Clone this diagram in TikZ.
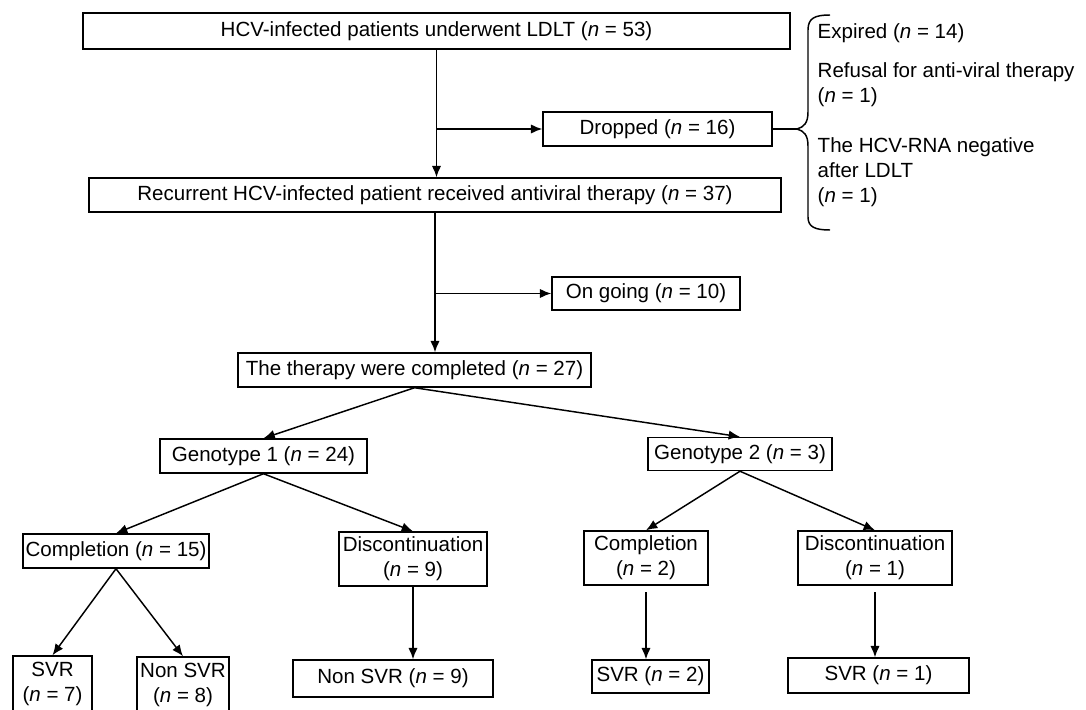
\documentclass[tikz,border=0pt]{standalone}
\usepackage{fontspec}
\setmainfont{Liberation Sans}
\usetikzlibrary{arrows.meta}

\newcommand{\ncount}[1]{(\textit{n} = #1)}

\begin{document}
\begin{tikzpicture}[
    x=0.75pt, y=-0.75pt,
    >={Latex[length=8.5pt,width=7pt]},
    font=\fontsize{15.4pt}{18.75pt}\selectfont,
    line width=1.1pt,
    box/.style={
        draw,
        rectangle,
        inner sep=0pt,
        align=center,
        line width=1.1pt
    },
    wd/.style={minimum width=#1*0.75pt},
    ht/.style={minimum height=#1*0.75pt},
    note/.style={
        anchor=west,
        align=left,
        inner sep=0pt
    }
]
\useasboundingbox (0,0) rectangle (1086,710);
\clip (0,0) rectangle (1086,710);

\node[box, wd=707, ht=36] (top) at (436.5,31) {HCV-infected patients underwent LDLT \ncount{53}};
\node[box, wd=229, ht=34] (dropped) at (657.5,129) {Dropped \ncount{16}};
\node[box, wd=692, ht=34] (recurrent) at (435,195) {Recurrent HCV-infected patient received antiviral therapy \ncount{37}};
\node[box, wd=188, ht=33] (ongoing) at (646,293.5) {On going \ncount{10}};
\node[box, wd=353, ht=34] (therapy) at (414.5,370) {The therapy were completed \ncount{27}};

\node[box, wd=207, ht=34] (geno1) at (263.5,456) {Genotype 1 \ncount{24}};
\node[box, wd=184, ht=33] (geno2) at (740,454) {Genotype 2 \ncount{3}};

\node[box, wd=186, ht=34] (comp1) at (116,551) {Completion \ncount{15}};
\node[box, wd=148, ht=54] (disc1) at (413,559) {Discontinuation\\\ncount{9}};
\node[box, wd=124, ht=54] (comp2) at (646,558) {Completion\\\ncount{2}};
\node[box, wd=154, ht=54] (disc2) at (875,558) {Discontinuation\\\ncount{1}};

\node[box, wd=79, ht=56] (svr7) at (52.5,684) {SVR\\\ncount{7}};
\node[box, wd=92, ht=55] (nonsvr8) at (183,684.5) {Non SVR\\\ncount{8}};
\node[box, wd=200, ht=37] (nonsvr9) at (393,678.5) {Non SVR \ncount{9}};
\node[box, wd=117, ht=33] (svr2) at (650.5,676.5) {SVR \ncount{2}};
\node[box, wd=181, ht=35] (svr1) at (878.5,675.5) {SVR \ncount{1}};

\node[note] (expired) at (817,33) {Expired \ncount{14}};
\node[note] (refusal) at (817,84.5) {Refusal for anti-viral therapy\\\ncount{1}};
\node[note] (negative) at (817,172) {The HCV-RNA negative\\after LDLT\\\ncount{1}};

\coordinate (cusp) at (797,129);
\draw (830,15) .. controls (815,15) and (808,18) .. (808,30) -- (808,112)
    .. controls (808,123) and (804,127) .. (cusp)
    .. controls (804,131) and (808,135) .. (808,146) -- (808,217)
    .. controls (808,227) and (815,230) .. (830,230);
\draw (dropped.east) -- (cusp);

\draw[->] (top.south) -- (top.south |- recurrent.north);
\draw[->] (top.south |- dropped.west) -- (dropped.west);
\draw[->] (recurrent.south) -- (recurrent.south |- therapy.north);
\draw[->] (recurrent.south |- ongoing.west) -- (ongoing.west);

\draw[->] (therapy.south) -- (geno1.north);
\draw[->] (therapy.south) -- (geno2.north);
\draw[->] (geno1.south) -- (comp1.north);
\draw[->] (geno1.south) -- (disc1.north);
\draw[->] (geno2.south) -- (comp2.north);
\draw[->] (geno2.south) -- (disc2.north);

\draw[->] (comp1.south) -- (svr7.north);
\draw[->] (comp1.south) -- (nonsvr8.north);
\draw[->] (disc1.south) -- (disc1.south |- nonsvr9.north);
\draw[->, shorten <=5pt] (comp2.south) -- (comp2.south |- svr2.north);
\draw[->, shorten <=5pt] (disc2.south) -- (disc2.south |- svr1.north);
\end{tikzpicture}
\end{document}
